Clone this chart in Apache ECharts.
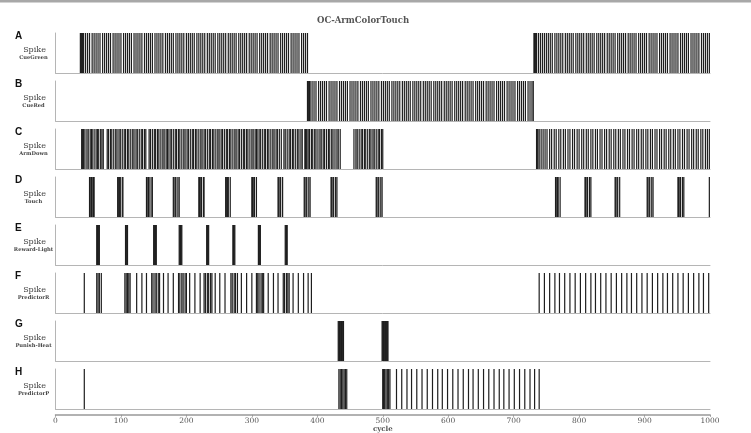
<!DOCTYPE html>
<html>
<head>
<meta charset="utf-8">
<script src="https://cdn.jsdelivr.net/npm/echarts@6/dist/echarts.min.js"></script>
<style>
  html, body { margin: 0; padding: 0; background: #fff; }
  #chart { width: 751px; height: 433px; }
</style>
</head>
<body>
<div id="chart"></div>
<script>
// spike times (cycle), one array per panel
const cueGreen = [38, 39, 40, 41, 42, 43,
  46, 49, 52, 56, 59, 62, 65, 68, 72, 75, 78, 81, 84, 88, 91, 94, 97, 100, 104, 107, 110, 113, 116, 120, 123, 126, 129, 132, 136, 139, 142, 145, 148, 152, 155, 158, 161, 164, 168, 171, 174, 177, 180, 184, 187, 190, 193, 196, 200, 203, 206, 209, 212, 216, 219, 222, 225, 228, 232, 235, 238, 241, 244, 248, 251, 254, 257, 260, 264, 267, 270, 273, 276, 280, 283, 286, 289, 292, 296, 299, 302, 305, 308, 312, 315, 318, 321, 324, 328, 331, 334, 337, 340, 344, 347, 350, 353, 356, 360, 363, 366, 369, 372, 376, 379, 382, 385,
  731, 732, 733, 734, 735,
  738, 741, 744, 747, 750, 753, 756, 759, 763, 766, 769, 772, 775, 779, 782, 785, 788, 791, 795, 798, 801, 804, 807, 811, 814, 817, 820, 823, 827, 830, 833, 836, 839, 843, 846, 849, 852, 855, 859, 862, 865, 868, 871, 875, 878, 881, 884, 887, 891, 894, 897, 900, 903, 907, 910, 913, 916, 919, 923, 926, 929, 932, 935, 939, 942, 945, 948, 951, 955, 958, 961, 964, 967, 971, 974, 977, 980, 983, 987, 990, 993, 996, 999]

const cueRed = [385, 386, 387, 388, 389,
  392, 395, 398, 402, 405, 408, 411, 414, 418, 421, 424, 427, 430, 434, 437, 440, 443, 446, 450, 453, 456, 459, 462, 466, 469, 472, 475, 478, 482, 485, 488, 491, 494, 498, 501, 504, 507, 510, 514, 517, 520, 523, 526, 530, 533, 536, 539, 542, 546, 549, 552, 555, 558, 562, 565, 568, 571, 574, 578, 581, 584, 587, 590, 594, 597, 600, 603, 606, 610, 613, 616, 619, 622, 626, 629, 632, 635, 638, 642, 645, 648, 651, 654, 658, 661, 664, 667, 670, 674, 677, 680, 683, 686, 690, 693, 696, 699, 702, 706, 709, 712, 715, 718, 722, 725, 728, 730]

const armDown = [40, 41, 42, 43, 45, 48, 50, 53, 55, 56, 59, 62, 64, 66, 69, 71, 73,
  79, 81, 84, 86, 89, 92, 94, 97, 99, 102, 105, 107, 110, 112, 115, 118, 120, 123, 125, 128, 131, 133, 136, 138,
  143, 145, 148, 151, 153, 156, 158, 161, 164, 166, 169, 171, 172, 175, 177, 180, 183, 185, 188, 190, 193, 196, 198, 201, 203, 206, 209, 211, 214, 216, 219, 222, 224, 227, 229, 232, 235, 237, 240, 242, 245, 248, 250, 253, 255, 258, 261, 263, 266, 268, 271, 274, 276, 279, 281, 284, 287, 289, 292, 294, 297, 300, 302, 305, 307, 308, 311, 313, 316, 319, 321, 324, 326, 329, 332, 334, 337, 339, 342, 345,
  349, 351, 354, 357, 359, 362, 364, 367, 370, 372, 375, 377,
  381, 382, 383, 384, 386, 388, 391, 393, 396, 398, 401, 404, 406, 409, 411, 414, 417, 419, 422, 424, 427, 430, 432, 435,
  456, 459, 461, 464, 467, 469, 472, 474, 477, 480, 482, 485, 487, 490, 493, 495, 498, 500,
  735, 736, 737, 739, 742, 745, 748, 751, 755, 758, 762, 765, 769, 772, 776, 779, 783, 786, 790, 793, 797, 800, 804, 807, 811, 814, 818, 821, 825, 828, 832, 835, 839, 842, 846, 849, 853, 856, 860, 863, 867, 870, 874, 877, 881, 884, 888, 891, 895, 898, 902, 905, 909, 912, 916, 919, 923, 926, 930, 933, 937, 940, 944, 947, 951, 954, 958, 961, 965, 968, 972, 975, 979, 982, 986, 989, 993, 996, 999]

const touch = [52, 53, 55, 56, 58, 59,
  95, 96, 98, 99, 102, 103,
  139, 140, 142, 143, 146, 148,
  180, 181, 183, 184, 187, 189,
  219, 220, 222, 223, 226, 227,
  260, 261, 263, 264, 267,
  300, 301, 303, 304, 307,
  340, 341, 343, 344, 347,
  380, 381, 383, 384, 387, 389,
  421, 422, 424, 425, 428, 430,
  490, 491, 493, 494, 497, 499,
  764, 765, 767, 768, 771,
  809, 810, 812, 813, 816, 818,
  855, 856, 858, 859, 862,
  904, 905, 907, 908, 911, 913,
  951, 952, 954, 955, 958, 960,
  999]

const rewardLight = [63, 64, 65, 66, 67,
  107, 108, 109, 110,
  150, 151, 152, 153, 154,
  189, 190, 191, 192, 193,
  231, 232, 233, 234,
  271, 272, 273, 274,
  310, 311, 312, 313,
  351, 352, 353, 354]

const predictorR = [44,
  63, 65, 67, 70,
  106, 108, 110, 112, 114,
  124, 132, 139,
  147, 149, 152, 154, 157, 159,
  165, 172, 180,
  188, 190, 193, 195, 198, 200,
  205, 213, 221,
  227, 229, 232, 234, 237, 239,
  244, 251, 259,
  268, 270, 273, 275, 278,
  284, 292, 300,
  307, 309, 311, 314, 316, 318,
  325, 333, 340,
  348, 350, 353, 355, 357,
  363, 371, 379, 386, 391,
  739, 747, 755, 763, 770, 778, 786, 794, 802, 810, 818, 825, 833, 841, 849, 857, 865, 873, 880, 888, 896, 904, 912, 920, 928, 935, 943, 951, 959, 967, 975, 983, 990, 998]

const punishHeat = [432, 433, 434, 435, 436, 437, 438, 439, 440,
  499, 500, 501, 502, 503, 504, 505, 506, 507, 508]

const predictorP = [44,
  433, 435, 437, 439, 441, 443, 445,
  500, 501, 502, 503, 505, 507, 509, 511,
  521, 529, 537, 544, 552, 560, 568, 576, 584, 591, 599, 607, 615, 623, 631, 638, 646, 654, 662, 670, 678, 685, 693, 701, 709, 717, 725, 732, 739]

const letters = ['A', 'B', 'C', 'D', 'E', 'F', 'G', 'H']
const channels = ['CueGreen', 'CueRed', 'ArmDown', 'Touch', 'Reward-Light', 'PredictorR', 'Punish-Heat', 'PredictorP']
const spikes = [cueGreen, cueRed, armDown, touch, rewardLight, predictorR, punishHeat, predictorP]
const xTicks = [0, 100, 200, 300, 400, 500, 600, 700, 800, 900, 1000]

const chart = echarts.init(document.getElementById('chart'))

const LEFT = 55.5
const RIGHT = 41
const TOP0 = 33
const STEP = 48
const PANEL_H = 40
const serif = 'DejaVu Serif'

const grids = []
const xAxes = []
const yAxes = []
const series = []
const graphics = []

spikes.forEach((times, i) => {
  const top = TOP0 + STEP * i
  grids.push({ left: LEFT, right: RIGHT, top: top, height: PANEL_H })
  xAxes.push({
    type: 'value', gridIndex: i, min: 0, max: 1000,
    axisLine: { show: true, lineStyle: { color: '#b5b5b5', width: 1 } },
    axisTick: { show: false }, axisLabel: { show: false }, splitLine: { show: false }
  })
  yAxes.push({
    type: 'value', gridIndex: i, min: 0, max: 1,
    axisLine: { show: true, lineStyle: { color: '#b5b5b5', width: 1 } },
    axisTick: { show: false }, axisLabel: { show: false }, splitLine: { show: false }
  })
  series.push({
    type: 'custom',
    xAxisIndex: i,
    yAxisIndex: i,
    silent: true,
    data: times.map(t => [t, 1]),
    encode: { x: 0, y: 1 },
    renderItem: (params, api) => {
      const lo = api.coord([api.value(0), 0])
      const hi = api.coord([api.value(0), 1])
      return {
        type: 'rect',
        shape: { x: lo[0] - 0.6, y: hi[1], width: 1.2, height: lo[1] - hi[1] },
        style: { fill: '#1e1e1e' }
      }
    }
  })
  graphics.push(
    { type: 'text', left: 15, top: top - 2, style: { text: letters[i], font: 'bold 10px "Liberation Sans", Arial', fill: '#111' } },
    { type: 'text', x: 34.5, y: top + 17, style: { text: 'Spike', font: '8px "' + serif + '"', fill: '#444', textAlign: 'center', textVerticalAlign: 'middle' } },
    { type: 'text', x: 33.5, y: top + 24.5, style: { text: channels[i], font: 'bold 5.2px "' + serif + '"', fill: '#444', textAlign: 'center', textVerticalAlign: 'middle' } }
  )
})

// shared cycle axis at the bottom
grids.push({ left: LEFT, right: RIGHT, top: 414.5, height: 1 })
xAxes.push({
  type: 'value', gridIndex: 8, min: 0, max: 1000, interval: 100,
  name: 'cycle', nameLocation: 'middle', nameGap: 9.5,
  nameTextStyle: { fontFamily: serif, fontSize: 7, color: '#555', fontWeight: 'bold' },
  axisLine: { show: true, lineStyle: { color: '#999', width: 1.5 } },
  axisTick: { show: true, length: 2, lineStyle: { color: '#999' } },
  axisLabel: { fontFamily: serif, fontSize: 7.5, color: '#555', margin: 2, formatter: v => xTicks.includes(v) ? String(v) : '' },
  splitLine: { show: false }
})
yAxes.push({ type: 'value', gridIndex: 8, show: false, min: 0, max: 1 })

graphics.push({ type: 'rect', shape: { x: 0, y: 0, width: 751, height: 2.5 }, style: { fill: '#a8a8a8' } })

chart.setOption({
  animation: false,
  backgroundColor: '#fff',
  title: {
    text: 'OC-ArmColorTouch',
    left: 312, top: 11,
    textStyle: { fontFamily: serif, fontSize: 8.5, fontWeight: 'bold', color: '#555' }
  },
  grid: grids,
  xAxis: xAxes,
  yAxis: yAxes,
  series: series,
  graphic: graphics
})
</script>
</body>
</html>
